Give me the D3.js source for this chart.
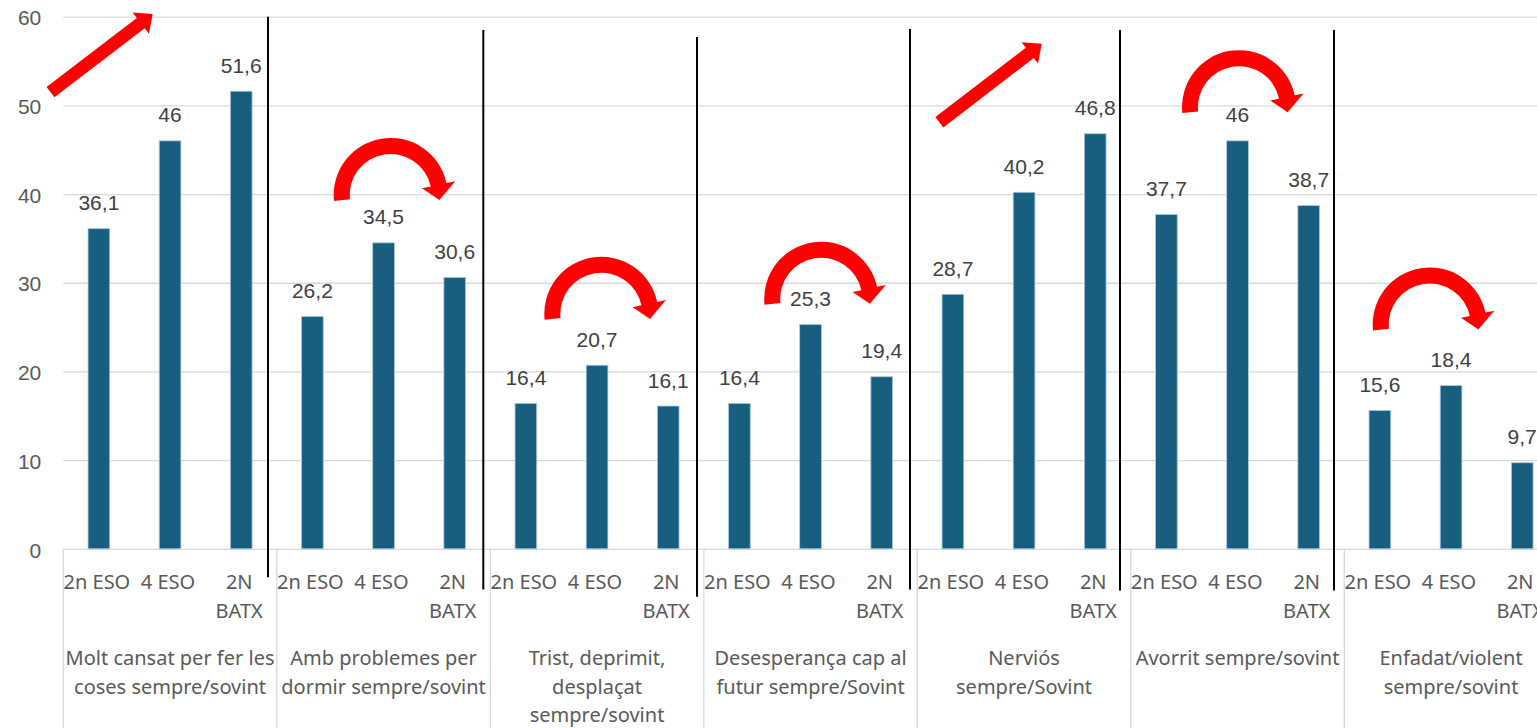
<!DOCTYPE html>
<html>
<head>
<meta charset="utf-8">
<script src="https://cdn.jsdelivr.net/npm/d3@7"></script>
<style>
  body { margin: 0; background: #fff; }
  svg { display: block; }
</style>
</head>
<body>
<div id="chart"></div>
<script>
// Categories (salts de linia com a l'original)
const grups = [
  "Molt cansat per fer les\ncoses sempre/sovint",
  "Amb problemes per\ndormir sempre/sovint",
  "Trist, deprimit,\ndesplaçat\nsempre/sovint",
  "Desesperança cap al\nfutur sempre/Sovint",
  "Nerviós\nsempre/Sovint",
  "Avorrit sempre/sovint",
  "Enfadat/violent\nsempre/sovint"
];
const cursos = ["2n ESO", "4 ESO", "2N\nBATX"];

const valors2nESO  = [36.1, 26.2, 16.4, 16.4, 28.7, 37.7, 15.6];
const valors4ESO   = [46, 34.5, 20.7, 25.3, 40.2, 46, 18.4];
const valors2NBATX = [51.6, 30.6, 16.1, 19.4, 46.8, 38.7, 9.7];

const yTicks = [0, 10, 20, 30, 40, 50, 60];

const series = [valors2nESO, valors4ESO, valors2NBATX];

// taula plana grup/curs/valor
const data = grups.flatMap((g, i) =>
  cursos.map((c, j) => ({ grup: g, curs: c, valor: series[j][i] })));

const W = 1537, H = 728;
const left = 63.3, groupW = 213.5;

const svg = d3.select("#chart")
  .append("svg")
    .attr("width", W)
    .attr("height", H);

const x0 = d3.scaleBand()
  .domain(grups)
  .range([left, left + groupW * grups.length])
  .padding(0);

const x1 = d3.scaleBand()
  .domain(cursos)
  .range([0, x0.bandwidth()])
  .padding(0);

const barW = x1.bandwidth() * 0.305;

const y = d3.scaleLinear()
  .domain([0, 60])
  .range([548.8, 16.7]);

// Grid
const grid = svg.append("g")
  .attr("transform", `translate(${left},0)`)
  .call(d3.axisLeft(y)
    .tickValues(yTicks)
    .tickSize(-(W - left))
    .tickFormat(""));
grid.select(".domain").remove();
grid.selectAll("line")
  .attr("stroke", "#d9d9d9")
  .attr("stroke-width", 1.3);

// Eix Y (nomes etiquetes)
const yAxis = svg.append("g")
  .attr("transform", `translate(${left},0)`)
  .call(d3.axisLeft(y).tickValues(yTicks).tickSize(0).tickPadding(22));
yAxis.select(".domain").remove();
yAxis.selectAll("text")
  .attr("dy", "0.39em")
  .style("font-family", "'Liberation Sans', Arial, sans-serif")
  .style("font-size", "21px")
  .attr("fill", "#595959");

// Separadors de grup a l'eix de categories
const fronteres = grups.map(g => x0(g)).concat([x0.range()[1]]);
svg.append("g")
  .selectAll("line")
  .data(fronteres)
  .enter()
  .append("line")
    .attr("x1", d => d)
    .attr("x2", d => d)
    .attr("y1", y(0))
    .attr("y2", H)
    .attr("stroke", "#d9d9d9")
    .attr("stroke-width", 1.3);

// Barres
const barCenter = d => x0(d.grup) + x1(d.curs) + x1.bandwidth() / 2;

svg.append("g")
  .selectAll("rect")
  .data(data)
  .enter()
  .append("rect")
    .attr("x", d => barCenter(d) - barW / 2)
    .attr("y", d => y(d.valor))
    .attr("width", barW)
    .attr("height", d => y(0) - y(d.valor))
    .attr("fill", "#175e7f")
    .attr("stroke", "#a9cbe0")
    .attr("stroke-width", 0.8);

// Etiquetes de dades
svg.append("g")
  .selectAll("text")
  .data(data)
  .enter()
  .append("text")
    .attr("x", d => barCenter(d))
    .attr("y", d => y(d.valor) - 18.5)
    .attr("text-anchor", "middle")
    .style("font-family", "'Liberation Sans', Arial, sans-serif")
    .style("font-size", "21px")
    .attr("fill", "#404040")
    .text(d => String(d.valor).replace(".", ","));

// Etiquetes multilinia
function multiLine(sel, text, x, y0, lh) {
  const lines = text.split("\n");
  const t = sel.append("text")
    .attr("text-anchor", "middle")
    .style("font-family", "'Noto Sans', sans-serif")
    .style("font-size", "20px")
    .attr("fill", "#595959");
  lines.forEach((l, i) => {
    t.append("tspan").attr("x", x).attr("y", y0 + i * lh).text(l);
  });
}

const catG = svg.append("g");
data.forEach(d => multiLine(catG, d.curs, barCenter(d) - 2, 589, 29));
grups.forEach(g => multiLine(catG, g, x0(g) + x0.bandwidth() / 2, 665, 28.5));

// ---- Anotacions ----
const bandU = x1.bandwidth();

// linies negres verticals (frontera, desplaçament px, dalt, baix en valors)
const liniesNegres = [
  { b: 1, dx: -8.8, top: 60, bottom: -3.2 },
  { b: 2, dx: -7, top: 58.5, bottom: -4.6 },
  { b: 3, dx: -6.8, top: 57.7, bottom: -5.4 },
  { b: 4, dx: -7.3, top: 58.6, bottom: -4.6 },
  { b: 5, dx: -10.8, top: 58.5, bottom: -4.7 },
  { b: 6, dx: -10.3, top: 58.5, bottom: -4.7 }
];
svg.append("g")
  .selectAll("line")
  .data(liniesNegres)
  .enter()
  .append("line")
    .attr("x1", d => fronteres[d.b] + d.dx)
    .attr("x2", d => fronteres[d.b] + d.dx)
    .attr("y1", d => y(d.top))
    .attr("y2", d => y(d.bottom))
    .attr("stroke", "#000")
    .attr("stroke-width", 2);

// fletxes rectes: grup, posicio en amplades de banda, valor
const fletxesRectes = [
  { g: 0, tx: -0.18, tv: 51.5, px: 1.256, pv: 60.3 },
  { g: 4, tx: 0.31, tv: 48.1, px: 1.748, pv: 56.95 }
];

function straightArrow(d) {
  const gx = x0(grups[d.g]);
  const T = [gx + d.tx * bandU, y(d.tv)];
  const P = [gx + d.px * bandU, y(d.pv)];
  const L = Math.hypot(P[0] - T[0], P[1] - T[1]);
  const u = [(P[0] - T[0]) / L, (P[1] - T[1]) / L];
  const n = [-u[1], u[0]];
  const sh = 6.5, hh = 13.5, hl = 15;
  const B = [P[0] - u[0] * hl, P[1] - u[1] * hl];
  const pts = [
    [T[0] + n[0] * sh, T[1] + n[1] * sh],
    [B[0] + n[0] * sh, B[1] + n[1] * sh],
    [B[0] + n[0] * hh, B[1] + n[1] * hh],
    P,
    [B[0] - n[0] * hh, B[1] - n[1] * hh],
    [B[0] - n[0] * sh, B[1] - n[1] * sh],
    [T[0] - n[0] * sh, T[1] - n[1] * sh]
  ];
  return "M" + pts.map(p => p.join(",")).join("L") + "Z";
}

svg.append("g")
  .selectAll("path")
  .data(fletxesRectes)
  .enter()
  .append("path")
    .attr("d", straightArrow)
    .attr("fill", "#ff0000");

// fletxes corbes: grup, centre en amplades de banda, centre en valor
const fletxesCorbes = [
  { g: 1, cx: 1.60, cv: 39.9 },
  { g: 2, cx: 1.56, cv: 26.5 },
  { g: 3, cx: 1.65, cv: 28.2 },
  { g: 5, cx: 1.52, cv: 49.8 },
  { g: 6, cx: 1.20, cv: 25.3 }
];

function curvedArrow(d) {
  const cx = x0(grups[d.g]) + d.cx * bandU;
  const cy = y(d.cv);
  const rad = a => a * Math.PI / 180;
  const pt = (a, r) => [cx + r * Math.cos(rad(a)), cy - r * Math.sin(rad(a))];
  const Ro = 57, Ri = 41, Rm = 49;
  const a0 = 186, a1 = 12, aTip = -6;
  const p = (q) => q.join(",");
  return "M" + p(pt(a0, Ro)) +
    "A" + Ro + "," + Ro + " 0 0 1 " + p(pt(a1, Ro)) +
    "L" + p(pt(a1, 66)) +
    "L" + p(pt(aTip, Rm)) +
    "L" + p(pt(a1, 32)) +
    "L" + p(pt(a1, Ri)) +
    "A" + Ri + "," + Ri + " 0 0 0 " + p(pt(a0, Ri)) + "Z";
}

svg.append("g")
  .selectAll("path")
  .data(fletxesCorbes)
  .enter()
  .append("path")
    .attr("d", curvedArrow)
    .attr("fill", "#ff0000");
</script>
</body>
</html>
